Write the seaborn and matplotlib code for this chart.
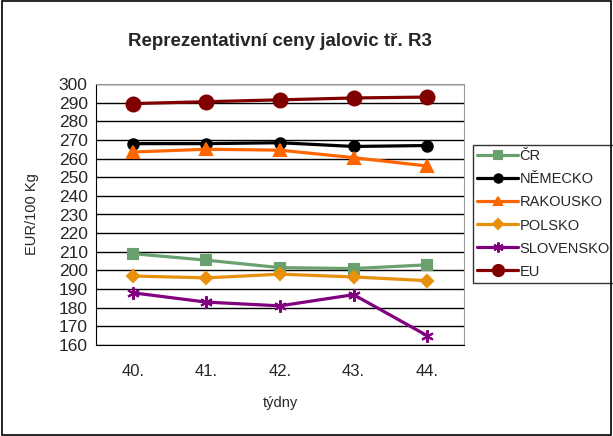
import numpy as np
import pandas as pd
import seaborn as sns
import matplotlib.pyplot as plt
from matplotlib.patches import Rectangle

tydny = ['40.', '41.', '42.', '43.', '44.']
cr = [209, 205.5, 201.5, 201, 203]
nemecko = [268, 268, 268.5, 266.5, 267]
rakousko = [263.5, 265, 264.5, 260.5, 256]
polsko = [197, 196, 198, 196.5, 194.5]
slovensko = [188, 183, 181, 187, 165]
eu = [289.5, 290.5, 291.5, 292.5, 293]

series = [
    ('ČR', cr, '#6aa06e', 's', 7.5),
    ('NĚMECKO', nemecko, '#000000', 'o', 7.5),
    ('RAKOUSKO', rakousko, '#ff6600', '^', 8),
    ('POLSKO', polsko, '#e8900a', 'D', 6.5),
    ('SLOVENSKO', slovensko, '#800080', (6, 2, 0), 9),
    ('EU', eu, '#800000', 'o', 10),
]

sns.set_style('white')
plt.rcParams['font.family'] = ['Liberation Sans', 'DejaVu Sans']

fig = plt.figure(figsize=(6.13, 4.36), dpi=100)
ax = fig.add_axes([96 / 613, 1 - 345 / 436, 368 / 613, 261 / 436])

x = np.arange(len(tydny))
for name, vals, col, mk, ms in series:
    df = pd.DataFrame({'x': x, 'y': vals})
    sns.lineplot(data=df, x='x', y='y', ax=ax, color=col, marker=mk, markersize=ms,
                 markeredgecolor=col, markeredgewidth=1.5, linewidth=2.3, label=name)

ax.set_ylim(160, 300)
ax.set_yticks(np.arange(160, 301, 10))
ax.set_xlim(-0.5, 4.5)
ax.set_xticks(x)
ax.set_xticklabels(tydny, fontsize=12)
ax.set_xticks(np.arange(-0.5, 5, 1), minor=True)
ax.tick_params(axis='x', which='major', length=0, pad=14)
ax.tick_params(axis='x', which='minor', length=5, width=1, color='black', direction='out')
ax.tick_params(axis='y', labelsize=12.5, length=4, width=1, color='black', direction='out', pad=2)
ax.grid(axis='y', color='black', linewidth=1)
ax.set_axisbelow(True)
for s in ['top', 'right']:
    ax.spines[s].set_color('#999999')
for s in ['left', 'bottom']:
    ax.spines[s].set_color('black')

ax.set_xlabel('týdny', fontsize=10.5, labelpad=12)
ax.set_ylabel('EUR/100 Kg', fontsize=10.5, labelpad=14)
fig.text(280 / 613, 1 - 41 / 436, 'Reprezentativní ceny jalovic tř. R3', ha='center', va='center',
         fontsize=13.5, fontweight='bold')

leg = ax.legend(loc='upper left', bbox_to_anchor=(473 / 613, 1 - 145 / 436),
                bbox_transform=fig.transFigure, frameon=True, fancybox=False, fontsize=10.5,
                handlelength=2.8, handletextpad=0.1, borderpad=0.3, labelspacing=0.62,
                borderaxespad=0, markerscale=0.8)
leg.get_frame().set_edgecolor('black')
leg.get_frame().set_linewidth(1)

fig.patches.append(Rectangle((0.003, 0.003), 0.994, 0.994, transform=fig.transFigure,
                             fill=False, edgecolor='black', linewidth=1.2))

fig.savefig('out.png', dpi=100)
